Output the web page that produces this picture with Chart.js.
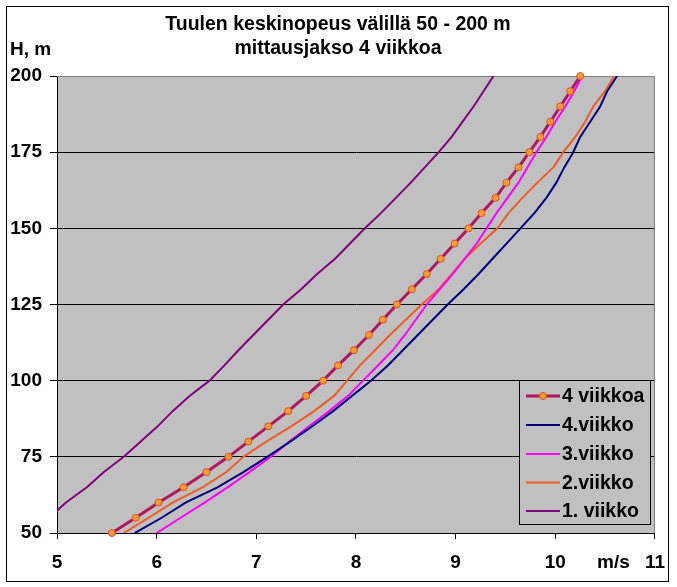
<!DOCTYPE html>
<html>
<head>
<meta charset="utf-8">
<script src="https://cdn.jsdelivr.net/npm/chart.js@4.4.1/dist/chart.umd.min.js"></script>
<style>
  html, body { margin: 0; padding: 0; background: #ffffff; }
  #wrap { width: 677px; height: 587px; position: relative; }
</style>
</head>
<body>
<div id="wrap"><canvas id="c" width="677" height="587"></canvas></div>
<script>
// ---- data ----
const heights = [50,55,60,65,70,75,80,85,90,95,100,105,110,115,120,125,130,135,140,145,150,155,160,165,170,175,180,185,190,195,200];
const fourWeeks = [5.55,5.79,6.02,6.27,6.50,6.72,6.92,7.12,7.32,7.50,7.67,7.82,7.98,8.13,8.27,8.41,8.56,8.71,8.85,8.99,9.13,9.26,9.40,9.51,9.63,9.74,9.85,9.95,10.05,10.15,10.25];
const week4 = [5.78,6.05,6.29,6.61,6.87,7.11,7.34,7.56,7.77,7.96,8.15,8.32,8.47,8.62,8.77,8.92,9.08,9.23,9.37,9.51,9.65,9.79,9.91,10.01,10.09,10.18,10.25,10.35,10.45,10.52,10.62];
const week3 = [6.00,6.24,6.48,6.71,6.93,7.14,7.33,7.53,7.73,7.92,8.07,8.22,8.37,8.49,8.60,8.71,8.84,8.97,9.09,9.21,9.31,9.41,9.52,9.63,9.72,9.81,9.91,10.00,10.10,10.19,10.27];
const week2 = [5.67,5.92,6.16,6.46,6.70,6.87,7.10,7.35,7.58,7.78,7.91,8.04,8.19,8.34,8.50,8.66,8.83,8.96,9.09,9.25,9.42,9.53,9.67,9.82,9.98,10.08,10.20,10.30,10.38,10.50,10.59];
const week1 = [4.71,4.92,5.09,5.30,5.47,5.67,5.84,6.01,6.16,6.33,6.53,6.68,6.82,6.97,7.12,7.27,7.45,7.61,7.79,7.94,8.09,8.25,8.40,8.55,8.69,8.83,8.96,9.07,9.18,9.28,9.38];
const seriesLabels = ['4 viikkoa', '4.viikko', '3.viikko', '2.viikko', '1. viikko'];
const titleLines = ['Tuulen keskinopeus välillä 50 - 200 m', 'mittausjakso 4 viikkoa'];
const yAxisTitle = 'H, m';
const xAxisTitle = 'm/s';
const xMin = 5, xMax = 11, xStep = 1;
const yMin = 50, yMax = 200, yStep = 25;

// ---- styling ----
const FONT = '"Liberation Sans", Arial, sans-serif';
const colors = ['#B0175C', '#000080', '#FF00FF', '#F05A24', '#800080'];
const widths = [3, 2, 2, 2, 2];

function pts(xs) { return heights.map((h, i) => ({ x: xs[i], y: h })); }
const seriesValues = [fourWeeks, week4, week3, week2, week1];

const datasets = seriesValues.map((vals, i) => ({
  label: seriesLabels[i],
  data: pts(vals),
  borderColor: colors[i],
  backgroundColor: colors[i],
  borderWidth: widths[i],
  tension: 0,
  fill: false,
  pointRadius: i === 0 ? 3.5 : 0,
  pointHoverRadius: i === 0 ? 3.5 : 0,
  pointBackgroundColor: '#FF9933',
  pointBorderColor: '#D9541E',
  pointBorderWidth: 1,
  clip: i === 0 ? false : undefined,
  order: i
}));

const decor = {
  id: 'decor',
  beforeDraw(chart) {
    const { ctx, chartArea: a } = chart;
    ctx.save();
    ctx.fillStyle = '#ffffff';
    ctx.fillRect(0, 0, chart.width, chart.height);
    ctx.fillStyle = '#C0C0C0';
    ctx.fillRect(a.left, a.top, a.right - a.left, a.bottom - a.top);
    ctx.restore();
  },
  beforeDatasetsDraw(chart) {
    const { ctx, chartArea: a } = chart;
    ctx.save();
    ctx.strokeStyle = '#808080';
    ctx.lineWidth = 1;
    ctx.beginPath();
    ctx.moveTo(a.left, a.top + 0.5);
    ctx.lineTo(a.right - 0.5, a.top + 0.5);
    ctx.lineTo(a.right - 0.5, a.bottom);
    ctx.stroke();
    ctx.restore();
  },
  afterDraw(chart) {
    const { ctx } = chart;
    ctx.save();
    // outer border
    ctx.strokeStyle = '#000000';
    ctx.lineWidth = 1;
    ctx.strokeRect(6.5, 6.5, 662, 575);
    // titles
    ctx.fillStyle = '#000000';
    ctx.font = 'bold 19.5px ' + FONT;
    ctx.textAlign = 'center';
    ctx.textBaseline = 'middle';
    ctx.fillText(titleLines[0], 338, 25);
    ctx.fillText(titleLines[1], 338, 49);
    ctx.font = 'bold 19px ' + FONT;
    ctx.textAlign = 'left';
    ctx.fillText(yAxisTitle, 10, 50);
    ctx.fillText(xAxisTitle, 597, 563);
    // legend
    const lx = 519.5, ly = 380.5, lw = 131, lh = 144;
    ctx.fillStyle = '#C0C0C0';
    ctx.fillRect(lx, ly, lw, lh);
    ctx.strokeStyle = '#000000';
    ctx.strokeRect(lx, ly, lw, lh);
    const rows = [396, 425, 454, 482.5, 511];
    chart.data.datasets.forEach((ds, i) => {
      const y = rows[i];
      ctx.strokeStyle = ds.borderColor;
      ctx.lineWidth = ds.borderWidth;
      ctx.beginPath();
      ctx.moveTo(526, y);
      ctx.lineTo(560, y);
      ctx.stroke();
      if (ds.pointRadius > 0) {
        ctx.beginPath();
        ctx.arc(543, y, 3.5, 0, Math.PI * 2);
        ctx.fillStyle = ds.pointBackgroundColor;
        ctx.fill();
        ctx.lineWidth = 1;
        ctx.strokeStyle = ds.pointBorderColor;
        ctx.stroke();
      }
      ctx.fillStyle = '#000000';
      ctx.font = 'bold 19.5px ' + FONT;
      ctx.textAlign = 'left';
      ctx.textBaseline = 'middle';
      ctx.fillText(ds.label, 562, y + 1);
    });
    ctx.restore();
  }
};

new Chart(document.getElementById('c'), {
  type: 'line',
  data: { datasets },
  options: {
    responsive: false,
    animation: false,
    events: [],
    layout: { padding: { left: 0, top: 76, right: 21, bottom: 0 } },
    plugins: { legend: { display: false }, title: { display: false }, tooltip: { enabled: false } },
    scales: {
      x: {
        type: 'linear',
        min: xMin, max: xMax,
        afterFit(s) { s.height = 54; },
        ticks: { stepSize: xStep, color: '#000', padding: 12, font: { family: FONT, size: 19, weight: 'bold' } },
        grid: { display: true, drawOnChartArea: false, tickLength: 6, color: '#000', tickColor: '#000' },
        border: { display: true, color: '#000', width: 1 }
      },
      y: {
        type: 'linear',
        min: yMin, max: yMax,
        afterFit(s) { s.width = 57; },
        ticks: { stepSize: yStep, color: '#000', padding: 8, font: { family: FONT, size: 19, weight: 'bold' } },
        grid: {
          display: true, drawOnChartArea: true, tickLength: 7,
          color: (c) => (c.tick && c.tick.value === yMax ? 'rgba(0,0,0,0)' : '#000'),
          tickColor: '#000', lineWidth: 1
        },
        border: { display: true, color: '#000', width: 1 }
      }
    }
  },
  plugins: [decor]
});
</script>
</body>
</html>
